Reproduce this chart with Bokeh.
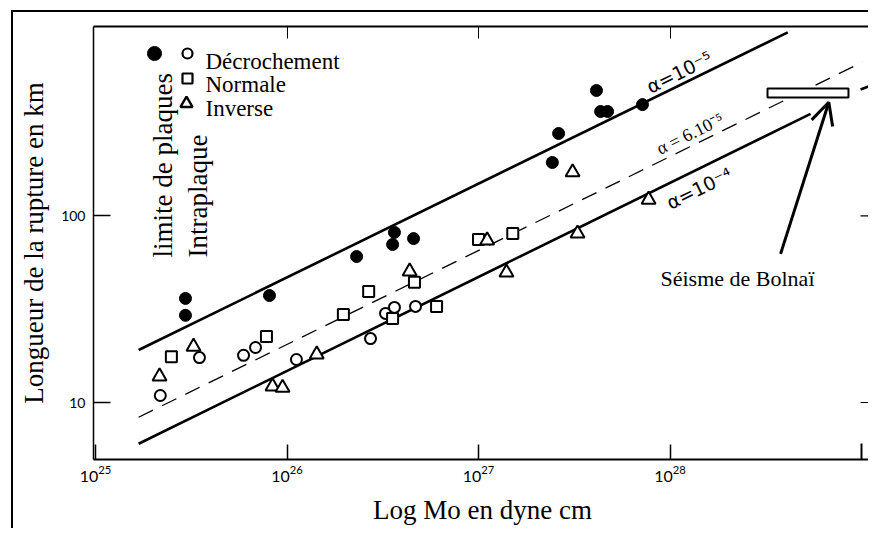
import math
from bokeh.plotting import figure
from bokeh.models import (Range1d, LogAxis, FixedTicker, CustomJSTickFormatter,
                          BasicTickFormatter, LogTickFormatter, Arrow, OpenHead)
from bokeh.core.properties import value
from bokeh.embed import file_html
from bokeh.resources import INLINE

# ---------------- data (seismic moment in dyne.cm, rupture length in km) -------------
# plate-boundary strike-slip events (filled circles)
pb_m0 = [2.95e25, 2.95e25, 8.1e25, 2.31e26, 3.64e26, 3.56e26, 4.58e26,
         2.62e27, 2.43e27, 4.13e27, 4.34e27, 4.72e27, 7.18e27]
pb_len = [36.1, 29.3, 37.4, 60.5, 81.5, 70.2, 75.5, 276, 193, 469, 362, 362, 394]

# intraplate strike-slip (open circles)
ss_m0 = [2.18e25, 3.49e25, 5.93e25, 6.85e25, 1.12e26, 2.73e26, 3.27e26, 3.64e26, 4.69e26]
ss_len = [10.9, 17.4, 17.9, 19.7, 17.0, 22.0, 30.0, 32.3, 32.7]

# normal faulting (squares)
nf_m0 = [2.49e25, 7.81e25, 1.97e26, 2.67e26, 3.56e26, 4.63e26, 6.04e26, 1.0e27, 1.51e27]
nf_len = [17.6, 22.6, 29.6, 39.3, 28.2, 44.0, 32.7, 74.6, 80.4]

# reverse faulting (triangles)
rf_m0 = [2.16e25, 3.25e25, 8.4e25, 9.48e25, 1.43e26, 4.37e26, 1.11e27, 1.40e27,
         3.10e27, 3.29e27, 7.73e27]
rf_len = [13.8, 19.9, 12.2, 12.0, 18.1, 50.4, 73.8, 49.7, 171, 80.4, 122]

# scaling lines (end points)
a5_m0 = [1.68e25, 4.12e28]
a5_len = [19.1, 961]
a6_m0 = [1.68e25, 1.01e29]
a6_len = [8.34, 665]
a4_m0 = [1.68e25, 5.42e28]
a4_len = [6.01, 351.6]
a4b_m0 = [9.89e28, 1.3e29]
a4b_len = [475, 530]

# Bolnay earthquake box and arrow
bol_m0 = [3.23e28, 8.55e28]
bol_len = [430.5, 480.8]
arrow_m0 = [3.78e28, 6.75e28]
arrow_len = [62.5, 405.5]

x_ticks = [1e25, 1e26, 1e27, 1e28]
x_minor = [1e29]
y_ticks = [10, 100]

alpha_texts = ["α=10⁻⁵", "α = 6.10⁻⁵", "α=10⁻⁴"]
alpha_m0 = [7.64e27, 8.61e27, 9.71e27]
alpha_len = [486, 226, 116]

# ---------------- layout helpers (pixel -> data for annotations) -------------
PX_DEC_X = 191.5
PX_DEC_Y = 186.7


def at(px, py):
    return 10 ** (25 + (px - 95) / PX_DEC_X), 10 ** (1 + (402 - py) / PX_DEC_Y)


FRAME_L, FRAME_R, FRAME_T, FRAME_B = 93, 871, 26, 459
OFF_X, OFF_Y = 13, 12          # page offset of the figure (outer border sits just outside it)
x0, y0 = at(FRAME_L, FRAME_B)
x1, y1 = at(FRAME_R, FRAME_T)

p = figure(x_axis_type="log", y_axis_type="log",
           x_range=Range1d(x0, x1), y_range=Range1d(y0, y1),
           frame_width=FRAME_R - FRAME_L, frame_height=FRAME_B - FRAME_T,
           min_border_left=FRAME_L - OFF_X, min_border_top=FRAME_T - OFF_Y,
           min_border_bottom=71, min_border_right=0,
           output_backend="svg", toolbar_location=None)
p.grid.visible = False
p.outline_line_color = None
p.background_fill_color = "white"
p.border_fill_color = "white"
# outer panel border: left and top edges, drawn as a shadow just outside the figure
p.styles = {"margin-left": f"{OFF_X}px", "margin-top": f"{OFF_Y}px",
            "box-shadow": "-2px -2px 0 0 #000",
            "clip-path": "inset(-3px 3px 0px -3px)"}

xa = p.xaxis[0]
xa.ticker = FixedTicker(ticks=x_ticks, minor_ticks=x_minor)
xa.formatter = LogTickFormatter()
xa.major_tick_in = 15
xa.major_tick_out = 0
xa.minor_tick_in = 16
xa.minor_tick_out = 0
xa.axis_line_width = 2
xa.major_tick_line_width = 1.5
xa.minor_tick_line_width = 2
xa.major_label_text_font = "Lato"
xa.major_label_text_font_size = "16px"
xa.major_label_text_color = "black"
xa.major_label_standoff = 6
xa.axis_label = "Log Mo en dyne cm"
xa.axis_label_text_font = "Liberation Serif"
xa.axis_label_text_font_size = "27px"
xa.axis_label_text_font_style = "normal"
xa.axis_label_text_color = "black"
xa.axis_label_standoff = 10

ya = p.yaxis[0]
ya.ticker = FixedTicker(ticks=y_ticks)
ya.formatter = BasicTickFormatter()
ya.major_tick_in = 17
ya.major_tick_out = 0
ya.axis_line_width = 1.5
ya.major_tick_line_width = 1.5
ya.major_label_text_font = "Lato"
ya.major_label_text_font_size = "14px"
ya.major_label_text_color = "black"
ya.major_label_standoff = 8
ya.axis_label = "Longueur de la rupture en km"
ya.axis_label_text_font = "Liberation Serif"
ya.axis_label_text_font_size = "27px"
ya.axis_label_text_font_style = "normal"
ya.axis_label_text_color = "black"
ya.axis_label_standoff = 9

blank = CustomJSTickFormatter(code="return '';")
top = LogAxis(ticker=FixedTicker(ticks=[1e26, 1e27, 1e28]), formatter=blank,
              major_tick_in=12, major_tick_out=0, axis_line_width=2,
              major_label_standoff=0)
p.add_layout(top, "above")

# short tick marks of the (cropped) right-hand axis
p.segment(x0=[at(860, 0)[0]] * len(y_ticks), x1=[x1] * len(y_ticks), y0=y_ticks, y1=y_ticks,
          line_color="black", line_width=1.2)

# scaling lines
p.line(a5_m0, a5_len, line_color="black", line_width=2.6)
p.line(a6_m0, a6_len, line_color="black", line_width=1.3, line_dash="16 10")
p.line(a4_m0, a4_len, line_color="black", line_width=2.6)
p.line(a4b_m0, a4b_len, line_color="black", line_width=2.6)

# data points
p.scatter(pb_m0, pb_len, marker="circle", size=12, fill_color="black", line_color="black")
p.scatter(ss_m0, ss_len, marker="circle", size=11, fill_color="white", line_color="black", line_width=2)
p.scatter(nf_m0, nf_len, marker="square", size=11, fill_color="white", line_color="black", line_width=2)
p.scatter(rf_m0, rf_len, marker="triangle", size=14, fill_color="white", line_color="black", line_width=2)

# Bolnay box + arrow
p.quad(left=[bol_m0[0]], right=[bol_m0[1]], bottom=[bol_len[0]], top=[bol_len[1]],
       fill_color="white", line_color="black", line_width=2)
p.add_layout(Arrow(x_start=arrow_m0[0], y_start=arrow_len[0], x_end=arrow_m0[1], y_end=arrow_len[1],
                   line_width=3, line_color="black",
                   end=OpenHead(size=22, line_width=3, line_color="black")))
bx, by = at(737, 278)
p.text([bx], [by], text=["Séisme de Bolnaï"], text_font=value("Liberation Serif"),
       text_font_size="22px", text_align="center", text_baseline="alphabetic", text_color="black")

# alpha labels along the lines
ang = math.atan(0.49)
p.text(alpha_m0[0:1], alpha_len[0:1], text=alpha_texts[0:1], angle=ang, text_font=value("DejaVu Sans"),
       text_font_size="19px", text_baseline="alphabetic", text_color="black")
p.text(alpha_m0[1:2], alpha_len[1:2], text=alpha_texts[1:2], angle=ang, text_font=value("Liberation Serif"),
       text_font_size="18px", text_baseline="alphabetic", text_color="black")
p.text(alpha_m0[2:3], alpha_len[2:3], text=alpha_texts[2:3], angle=ang, text_font=value("DejaVu Sans"),
       text_font_size="19px", text_baseline="alphabetic", text_color="black")

# legend (drawn manually)
lx, ly = at(154, 53)
p.scatter([lx], [ly], marker="circle", size=14, fill_color="black", line_color="black")
ox, oy = at(187, 53)
p.scatter([ox], [oy], marker="circle", size=10, fill_color="white", line_color="black", line_width=2.2)
sx, sy = at(187, 78)
p.scatter([sx], [sy], marker="square", size=10, fill_color="white", line_color="black", line_width=2.2)
tx, ty = at(186, 103)
p.scatter([tx], [ty], marker="triangle", size=12, fill_color="white", line_color="black", line_width=2.4)
leg_texts = ["Décrochement", "Normale", "Inverse"]
leg_base = [61, 84, 108]
for t, b in zip(leg_texts, leg_base):
    qx, qy = at(205, b)
    p.text([qx], [qy], text=[t], text_font=value("Liberation Serif"), text_font_size="23px",
           text_baseline="alphabetic", text_color="black")

# vertical labels
for t, bxp in [("limite de plaques", 162), ("Intraplaque", 197)]:
    vx, vy = at(bxp, 257)
    p.text([vx], [vy], text=[t], angle=math.pi / 2, text_font=value("Liberation Serif"),
           text_font_size="27px", text_baseline="alphabetic", text_align="left", text_color="black")

open("out.html", "w").write(file_html(p, INLINE))
